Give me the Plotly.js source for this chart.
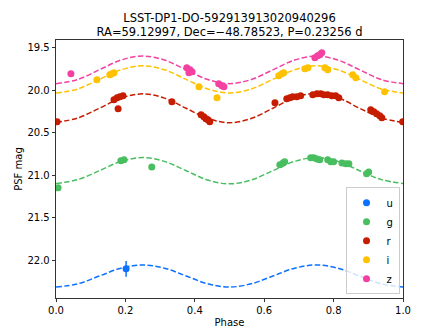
<!DOCTYPE html>
<html>
<head>
<meta charset="utf-8">
<script src="https://cdn.plot.ly/plotly-3.0.1.min.js"></script>
<style>
  html, body { margin: 0; padding: 0; background: #fff; }
  #lc { width: 448px; height: 336px; }
</style>
</head>
<body>
<div id="lc"></div>
<script>
// model curves at phase steps of 1/16
var modelPhase = [0, 0.0625, 0.125, 0.1875, 0.25, 0.3125, 0.375, 0.4375, 0.5,
  0.5625, 0.625, 0.6875, 0.75, 0.8125, 0.875, 0.9375, 1.0];
var modelU = [22.315, 22.277, 22.185, 22.093, 22.055, 22.093, 22.185, 22.277, 22.315,
  22.277, 22.185, 22.093, 22.055, 22.093, 22.185, 22.277, 22.315];
var modelG = [21.095, 21.05, 20.945, 20.835, 20.79, 20.835, 20.945, 21.055, 21.10,
  21.055, 20.945, 20.835, 20.79, 20.835, 20.945, 21.05, 21.095];
var modelR = [20.375, 20.325, 20.21, 20.09, 20.04, 20.09, 20.21, 20.33, 20.38,
  20.33, 20.21, 20.085, 20.035, 20.085, 20.21, 20.325, 20.375];
var modelI = [20.03, 19.983, 19.87, 19.757, 19.71, 19.757, 19.87, 19.983, 20.03,
  19.983, 19.87, 19.757, 19.71, 19.757, 19.87, 19.983, 20.03];
var modelZ = [19.92, 19.872, 19.757, 19.642, 19.595, 19.642, 19.757, 19.872, 19.92,
  19.872, 19.757, 19.642, 19.595, 19.642, 19.757, 19.872, 19.92];

// observations
var uPhase = [0.202];
var uMag = [22.101];
var uErr = [0.094];

var gPhase = [0.006, 0.187, 0.196, 0.276, 0.645, 0.654, 0.659, 0.734, 0.743, 0.752, 0.760,
  0.783, 0.792, 0.800, 0.824, 0.835, 0.844, 0.895, 0.901];
var gMag = [21.147, 20.829, 20.817, 20.900, 20.876, 20.853, 20.841, 20.794, 20.794, 20.806, 20.817,
  20.817, 20.841, 20.841, 20.853, 20.864, 20.864, 20.982, 20.959];

var rPhase = [0.003, 0.167, 0.176, 0.184, 0.193, 0.179, 0.334, 0.418, 0.426, 0.432, 0.438, 0.443,
  0.631, 0.665, 0.674, 0.682, 0.694, 0.705, 0.740, 0.752, 0.763, 0.772, 0.783, 0.795, 0.806, 0.815,
  0.907, 0.916, 0.924, 0.933, 0.939, 0.999];
var rMag = [20.369, 20.110, 20.086, 20.074, 20.063, 20.216, 20.133, 20.287, 20.310, 20.334, 20.346, 20.369,
  20.145, 20.098, 20.086, 20.074, 20.074, 20.063, 20.051, 20.039, 20.039, 20.051, 20.051, 20.063, 20.063, 20.086,
  20.228, 20.251, 20.275, 20.298, 20.322, 20.369];

var iPhase = [0.118, 0.155, 0.161, 0.167, 0.412, 0.464, 0.642, 0.651, 0.656, 0.717, 0.726,
  0.775, 0.783, 0.855, 0.864, 0.947];
var iMag = [19.874, 19.815, 19.803, 19.791, 19.956, 20.086, 19.827, 19.803, 19.791, 19.744, 19.732,
  19.732, 19.756, 19.815, 19.850, 20.015];

var zPhase = [0.043, 0.377, 0.386, 0.392, 0.383, 0.469, 0.478, 0.484, 0.746, 0.754, 0.760, 0.766];
var zMag = [19.803, 19.732, 19.756, 19.779, 19.791, 19.921, 19.945, 19.956, 19.614, 19.591, 19.579, 19.555];

var bands = ['u', 'g', 'r', 'i', 'z'];
var colors = {u: '#0c71ff', g: '#49be61', r: '#c61c00', i: '#ffc200', z: '#f341a2'};
var models = {u: modelU, g: modelG, r: modelR, i: modelI, z: modelZ};
var obs = {
  u: [uPhase, uMag, uErr],
  g: [gPhase, gMag, null],
  r: [rPhase, rMag, null],
  i: [iPhase, iMag, null],
  z: [zPhase, zMag, null]
};

var data = [];
bands.forEach(function(b) {
  data.push({
    x: modelPhase, y: models[b], type: 'scatter', mode: 'lines',
    line: {color: colors[b], width: 1.5, dash: '5.5px,2.4px', shape: 'spline'},
    showlegend: false, hoverinfo: 'skip'
  });
});
bands.forEach(function(b) {
  var o = obs[b];
  var t = {
    x: o[0], y: o[1], type: 'scatter', mode: 'markers', name: b,
    marker: {color: colors[b], size: 7}
  };
  if (o[2]) t.error_y = {type: 'data', array: o[2], visible: true, color: colors[b], thickness: 1.5, width: 0};
  data.push(t);
});

var axisStyle = {
  showgrid: false, zeroline: false, showline: true, mirror: true,
  linecolor: '#000', linewidth: 0.8, ticks: 'outside', ticklen: 3.5,
  tickwidth: 0.8, tickcolor: '#000', tickfont: {size: 10, color: '#000'}
};

var layout = {
  width: 448, height: 336,
  margin: {l: 56, r: 45, t: 40, b: 38},
  font: {family: 'DejaVu Sans', color: '#000'},
  paper_bgcolor: '#fff', plot_bgcolor: '#fff',
  title: {
    text: 'LSST-DP1-DO-592913913020940296<br>RA=59.12997, Dec=\u221248.78523, P=0.23256 d',
    font: {size: 11.5, color: '#000'},
    xref: 'paper', x: 0.5, xanchor: 'center',
    yref: 'container', y: 0.936, yanchor: 'top'
  },
  xaxis: Object.assign({}, axisStyle, {
    range: [0, 1], dtick: 0.2, tick0: 0, tickformat: '.1f',
    title: {text: 'Phase', font: {size: 10}, standoff: 3}
  }),
  yaxis: Object.assign({}, axisStyle, {
    range: [22.444, 19.406], dtick: 0.5, tick0: 19.5, tickformat: '.1f',
    title: {text: 'PSF mag', font: {size: 10}, standoff: 2}
  }),
  legend: {
    x: 0.99, y: 0.015, xanchor: 'right', yanchor: 'bottom',
    bgcolor: 'rgba(255,255,255,0.8)', bordercolor: '#ccc', borderwidth: 1,
    font: {size: 10}, itemwidth: 30, tracegroupgap: 0
  }
};

Plotly.newPlot('lc', data, layout, {displayModeBar: false, staticPlot: true});
</script>
</body>
</html>
